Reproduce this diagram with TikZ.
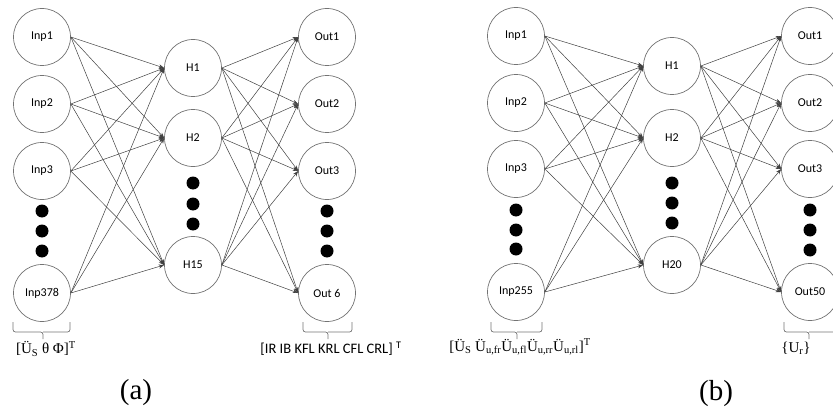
\documentclass[tikz,border=0pt]{standalone}
\usepackage{fontspec}
\setmainfont{Carlito}
\newfontfamily\vecfont{Liberation Serif}
\usetikzlibrary{arrows.meta}

\begin{document}
\begin{tikzpicture}[x=1pt,y=-1pt,
  unit/.style={circle, draw=black!55, line width=0.7pt, minimum size=57pt,
    inner sep=0pt, font=\fontsize{12}{14}\selectfont},
  link/.style={draw=black!75, line width=0.5pt, -{Stealth[length=5.5pt,width=4pt]}},
  more/.style={circle, fill=black, minimum size=13pt, inner sep=0pt},
  bracket/.style={draw=black!55, line width=0.7pt, rounded corners=2.5pt},
  vecs/.style={font=\vecfont\fontsize{15}{17}\selectfont},
  names/.style={font=\fontsize{14.5}{16}\selectfont},
  panel/.style={font=\vecfont\fontsize{29}{33}\selectfont}]
\useasboundingbox (0,0) rectangle (833,412);
\clip (0,0) rectangle (833,412);

% ---------- network (a) ----------
\node[unit] (ai1) at (42,37)  {Inp1};
\node[unit] (ai2) at (42,104) {Inp2};
\node[unit] (ai3) at (42,171) {Inp3};
\node[unit] (ai4) at (42,293) {Inp378};
\node[more] (aid1) at (42,211) {};
\node[more] (aid2) at (42,231) {};
\node[more] (aid3) at (42,251) {};

\node[unit] (ah1) at (193,68)  {H1};
\node[unit] (ah2) at (193,138) {H2};
\node[unit] (ah3) at (193,265) {H15};
\node[more] (ahd1) at (193,183) {};
\node[more] (ahd2) at (193,204) {};
\node[more] (ahd3) at (193,224) {};

\node[unit] (ao1) at (327,37)  {Out1};
\node[unit] (ao2) at (327,104) {Out2};
\node[unit] (ao3) at (327,171) {Out3};
\node[unit] (ao4) at (327,293) {Out 6};
\node[more] (aod1) at (327,211) {};
\node[more] (aod2) at (327,231) {};
\node[more] (aod3) at (327,251) {};

\foreach \i in {1,2,3,4}
  \foreach \h in {1,2,3}
    \draw[link] (ai\i.east) -- (ah\h.west);
\foreach \h in {1,2,3}
  \foreach \o in {1,2,3,4}
    \draw[link] (ah\h.east) -- (ao\o.west);

\draw[bracket] (13,322) |- (43,332) -- (43,339);
\draw[bracket] (70,322) |- (43,332);
\node[vecs] (alab1) at (46,349) {[Ü\textsubscript{S} θ Φ]\textsuperscript{T}};

\draw[bracket] (303,322) |- (328,332) -- (328,339);
\draw[bracket] (352,322) |- (328,332);
\node[names] (alab2) at (331,349) {[IR IB KFL KRL CFL CRL] \textsuperscript{T}};

\node[panel] (acap) at (136,393) {(a)};

% ---------- network (b) ----------
\node[unit] (bi1) at (516,36)  {Inp1};
\node[unit] (bi2) at (516,103) {Inp2};
\node[unit] (bi3) at (516,169) {Inp3};
\node[unit] (bi4) at (516,292) {Inp255};
\node[more] (bid1) at (516,210) {};
\node[more] (bid2) at (516,230) {};
\node[more] (bid3) at (516,249) {};

\node[unit] (bh1) at (672,66)  {H1};
\node[unit] (bh2) at (672,138) {H2};
\node[unit] (bh3) at (672,265) {H20};
\node[more] (bhd1) at (672,183) {};
\node[more] (bhd2) at (672,203) {};
\node[more] (bhd3) at (672,223) {};

\node[unit] (bo1) at (810,36)  {Out1};
\node[unit] (bo2) at (810,103) {Out2};
\node[unit] (bo3) at (810,169) {Out3};
\node[unit] (bo4) at (810,292) {Out50};
\node[more] (bod1) at (810,210) {};
\node[more] (bod2) at (810,230) {};
\node[more] (bod3) at (810,250) {};

\foreach \i in {1,2,3,4}
  \foreach \h in {1,2,3}
    \draw[link] (bi\i.east) -- (bh\h.west);
\foreach \h in {1,2,3}
  \foreach \o in {1,2,3,4}
    \draw[link] (bh\h.east) -- (bo\o.west);

\draw[bracket] (491,322) |- (517,332) -- (517,339);
\draw[bracket] (542,322) |- (517,332);
\node[vecs] (blab1) at (520,347)
  {[Ü\textsubscript{S} Ü\textsubscript{u,fr}Ü\textsubscript{u,fl}Ü\textsubscript{u,rr}Ü\textsubscript{u,rl}]\textsuperscript{T}};

\draw[bracket] (784,322) |- (809,332) -- (809,339);
\draw[bracket] (836,322) |- (809,332);
\node[vecs] (blab2) at (796,348) {\{U\textsubscript{r}\}};

\node[panel] (bcap) at (716,394) {(b)};
\end{tikzpicture}
\end{document}
